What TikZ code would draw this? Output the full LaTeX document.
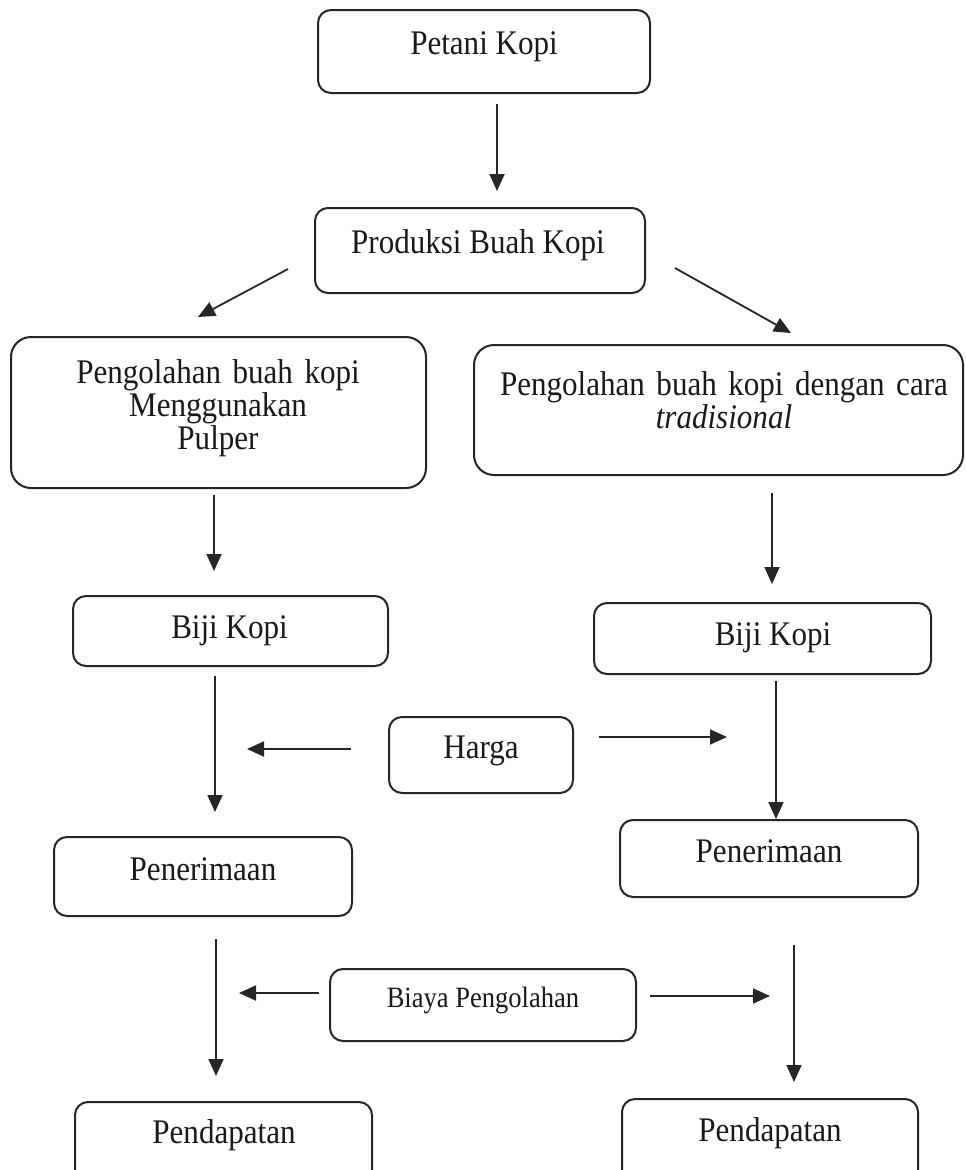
\documentclass[tikz,border=0pt]{standalone}
\usepackage{fontspec}
\setmainfont[FakeStretch=0.9]{Liberation Serif}
\usetikzlibrary{arrows.meta}
\begin{document}
\begin{tikzpicture}[x=1pt,y=-1pt,
  box/.style={draw=black!85, line width=2pt, rounded corners=13pt, inner sep=0pt},
  bigbox/.style={box, rounded corners=20pt},
  txt/.style={anchor=base, inner sep=0pt, text=black!90, font=\fontsize{34.5}{33}\selectfont},
  smalltxt/.style={txt, font=\fontsize{29.5}{30}\selectfont},
  mltxt/.style={txt, text width=480pt, align=center},
  arr/.style={line width=1.8pt, draw=black!85, -{Triangle[length=17pt,width=15pt]}}]
\clip (0,0) rectangle (966,1170);
\fill[white] (0,0) rectangle (966,1170);
% boxes
\node[box, minimum width=332pt, minimum height=83pt] (petani) at (484,51.5) {};
\node[box, minimum width=330pt, minimum height=85pt] (produksi) at (480,250.5) {};
\node[bigbox, minimum width=415pt, minimum height=151pt] (pulper) at (218.5,412.5) {};
\node[bigbox, minimum width=489pt, minimum height=130pt] (trad) at (718.5,410) {};
\node[box, minimum width=315pt, minimum height=70pt] (biji1) at (230.5,631) {};
\node[box, minimum width=337pt, minimum height=71pt] (biji2) at (762.5,638.5) {};
\node[box, minimum width=184pt, minimum height=76pt] (harga) at (481,755) {};
\node[box, minimum width=298pt, minimum height=79pt] (pen1) at (203,876.5) {};
\node[box, minimum width=298pt, minimum height=77pt] (pen2) at (769,858.5) {};
\node[box, minimum width=306pt, minimum height=72pt] (biaya) at (483,1005) {};
\node[box, minimum width=297pt, minimum height=100pt] (pend1) at (223.5,1152) {};
\node[box, minimum width=296pt, minimum height=100pt] (pend2) at (770,1149) {};
% texts
\node[txt] (tpetani) at (484,54) {Petani Kopi};
\node[txt] (tproduksi) at (478,253) {Produksi Buah Kopi};
\node[mltxt] (tpulper) at (218,383) {Pengolahan buah kopi\\Menggunakan\\Pulper};
\node[mltxt] (ttrad) at (724,395) {Pengolahan buah kopi dengan cara\\\textit{tradisional}};
\node[txt] (tbiji1) at (229.5,638) {Biji Kopi};
\node[txt] (tbiji2) at (773,645) {Biji Kopi};
\node[txt] (tharga) at (481,758) {Harga};
\node[txt] (tpen1) at (203,880) {Penerimaan};
\node[txt] (tpen2) at (769,862) {Penerimaan};
\node[smalltxt] (tbiaya) at (483,1007) {Biaya Pengolahan};
\node[txt] (tpend1) at (224,1143) {Pendapatan};
\node[txt] (tpend2) at (770,1141) {Pendapatan};
% free ends
\coordinate (hargaL) at (247,749);
\coordinate (hargaR) at (727,737);
\coordinate (biayaL) at (239,993);
\coordinate (biayaR) at (770,996);
% connectors
\draw[arr] ([xshift=13pt,yshift=-10pt]petani.south) -- ([xshift=17pt,yshift=16pt]produksi.north);
\draw[arr] ([xshift=-26pt,yshift=-18.5pt]produksi.west) -- ([xshift=-20.5pt,yshift=19pt]pulper.north);
\draw[arr] ([xshift=29pt,yshift=-17.5pt]produksi.east) -- ([xshift=72.5pt,yshift=11pt]trad.north);
\draw[arr] ([xshift=-4.5pt,yshift=-6pt]pulper.south) -- ([xshift=-16.5pt,yshift=24pt]biji1.north);
\draw[arr] ([xshift=53.5pt,yshift=-17pt]trad.south) -- ([xshift=9.5pt,yshift=18pt]biji2.north);
\draw[arr] ([xshift=-15.5pt,yshift=-9pt]biji1.south) -- ([xshift=12pt,yshift=24pt]pen1.north);
\draw[arr] ([xshift=13.5pt,yshift=-6pt]biji2.south) -- ([xshift=7pt]pen2.north);
\draw[arr] ([xshift=-37pt,yshift=6pt]harga.west) -- (hargaL);
\draw[arr] ([xshift=25pt,yshift=18pt]harga.east) -- (hargaR);
\draw[arr] ([xshift=13pt,yshift=-22pt]pen1.south) -- ([xshift=-7.5pt,yshift=25pt]pend1.north);
\draw[arr] ([xshift=25pt,yshift=-47pt]pen2.south) -- ([xshift=24pt,yshift=16pt]pend2.north);
\draw[arr] ([xshift=-10pt,yshift=12pt]biaya.west) -- (biayaL);
\draw[arr] ([xshift=13pt,yshift=9pt]biaya.east) -- (biayaR);
\end{tikzpicture}
\end{document}
